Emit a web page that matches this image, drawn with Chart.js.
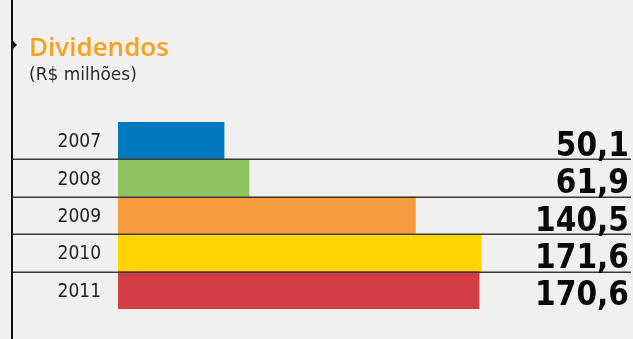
<!DOCTYPE html>
<html>
<head>
<meta charset="utf-8">
<script src="https://cdn.jsdelivr.net/npm/chart.js@4"></script>
<style>
  html, body { margin: 0; padding: 0; background: #f0f1ee; }
  #wrap { position: relative; width: 633px; height: 339px; overflow: hidden; }
  #eixo { position: absolute; left: 11px; top: 0; width: 2px; height: 339px; background: #111; }
  #seta { position: absolute; left: 13px; top: 41px; width: 0; height: 0;
          border-top: 4px solid transparent; border-bottom: 4px solid transparent; border-left: 4px solid #111; }
  #titulo { position: absolute; left: 29px; top: 28px; font-family: "Open Sans", sans-serif;
            font-weight: 600; font-size: 26px; line-height: 36px; color: #f7a11e; }
  #sub { position: absolute; left: 29px; top: 63px; font-family: "DejaVu Sans", sans-serif;
         font-size: 17px; line-height: 22px; color: #2a2a2a; }
  canvas { position: absolute; left: 0; top: 0; }
</style>
</head>
<body>
<div id="wrap">
  <canvas id="dividendos" width="633" height="339"></canvas>
  <div id="eixo"></div>
  <div id="seta"></div>
  <div id="titulo">Dividendos</div>
  <div id="sub">(R$ milhões)</div>
</div>
<script>
const anos = ["2007", "2008", "2009", "2010", "2011"];
const valores = [50.1, 61.9, 140.5, 171.6, 170.6];
const rotulos = ["50,1", "61,9", "140,5", "171,6", "170,6"];
const cores = ["#0079bf", "#8fc261", "#f99c40", "#fed500", "#d43d44"];

// linhas entre as barras, anos à esquerda e valores à direita
const plugin_textos = {
  id: "textos",
  afterDatasetsDraw: (chart) => {
    const ctx = chart.ctx;
    const y = chart.scales.y;
    const meio = (y.getPixelForValue(1) - y.getPixelForValue(0)) / 2;
    ctx.save();
    ctx.lineWidth = 1.5;
    ctx.strokeStyle = "#3a3a3a";
    for (let i = 0; i < anos.length - 1; i++) {
      const py = Math.round(y.getPixelForValue(i) + meio) + 0.25;
      ctx.beginPath();
      ctx.moveTo(12, py);
      ctx.lineTo(631, py);
      ctx.stroke();
    }
    ctx.fillStyle = "#1e1e1e";
    ctx.textAlign = "right";
    ctx.textBaseline = "middle";
    ctx.font = '19px "DejaVu Sans Condensed", "DejaVu Sans", sans-serif';
    anos.forEach((ano, i) => {
      ctx.fillText(ano, 101, y.getPixelForValue(i) + 1.5);
    });
    ctx.fillStyle = "#0a0a0a";
    ctx.textBaseline = "alphabetic";
    ctx.font = 'bold 33px "DejaVu Sans Condensed", "DejaVu Sans", sans-serif';
    rotulos.forEach((txt, i) => {
      ctx.fillText(txt, 629, y.getPixelForValue(i) + 15);
    });
    ctx.restore();
  },
};

const ctx1 = document.getElementById("dividendos").getContext("2d");

new Chart(ctx1, {
  type: "bar",
  data: {
    labels: anos,
    datasets: [
      {
        label: "Dividendos",
        data: valores,
        backgroundColor: cores,
        borderWidth: 0,
        categoryPercentage: 1.0,
        barPercentage: 1.0,
      },
    ],
  },
  options: {
    indexAxis: "y",
    responsive: false,
    animation: false,
    layout: {
      padding: { left: 118, right: 7, top: 122, bottom: 30 },
    },
    plugins: {
      legend: { display: false },
      tooltip: { enabled: false },
    },
    scales: {
      x: { display: false, min: 0, max: 240 },
      y: { display: false },
    },
  },
  plugins: [plugin_textos],
});
</script>
</body>
</html>
